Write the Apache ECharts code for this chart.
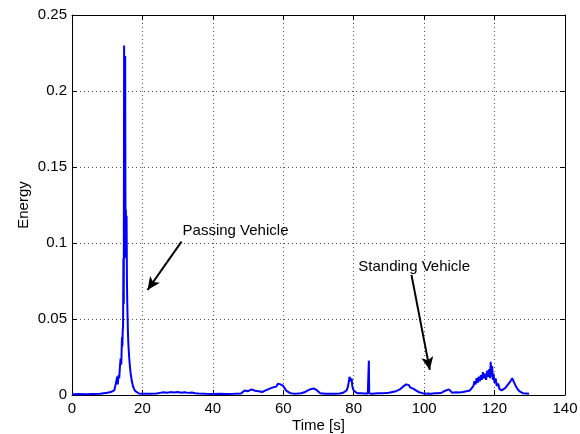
<!DOCTYPE html>
<html>
<head>
<meta charset="UTF-8">
<title>Energy</title>
<style type="text/css">
	body{margin:0;padding:0;background:#fff;}
	#chart{width:580px;height:434px;}
</style>
</head>
<body>
<div id="chart"></div>
<script src="https://cdn.jsdelivr.net/npm/echarts@6/dist/echarts.min.js"></script>
<script>
// time axis [s] and energy
var time = [0, 2, 4, 6, 8, 9, 10, 10.5, 11, 11.5, 12, 12.3, 12.6, 12.8, 13, 13.2, 13.4, 13.6, 13.8, 14,
	14.1, 14.2, 14.3, 14.4, 14.5, 14.6, 14.7, 14.8, 14.9, 15, 15.1, 15.2, 15.3, 15.4, 15.5, 15.6, 15.7, 15.8, 15.9, 16,
	16.2, 16.4, 16.6, 16.8, 17, 17.3, 17.6, 18, 18.5, 19, 20, 22, 24, 25, 26, 27, 28, 29, 30, 31,
	32, 33, 34, 35, 36, 38, 40, 42, 44, 46, 48, 48.5, 49, 50, 50.5, 51, 51.5, 52, 52.5, 53,
	54, 55, 56, 56.5, 57, 57.5, 58, 58.5, 58.8, 59.2, 59.6, 60, 60.5, 61, 62, 63, 64, 65, 66, 67,
	67.5, 68, 68.4, 68.8, 69.2, 69.6, 70, 70.5, 71, 72, 73, 74, 75, 76, 77, 77.5, 78, 78.3, 78.6, 78.8,
	79, 79.2, 79.4, 79.6, 79.8, 80.2, 80.6, 81, 82, 83, 84, 84.2, 84.3, 84.4, 85, 86, 87, 88, 89, 90,
	91, 92, 92.5, 93, 93.5, 94, 94.5, 94.9, 95.3, 95.7, 96, 96.5, 97, 97.5, 98, 98.6, 99, 100, 101, 102,
	103, 104, 105, 105.5, 106, 106.5, 107, 107.3, 108, 109, 110, 111, 112, 113, 113.5, 114, 114.3, 114.6, 114.9, 115.2,
	115.5, 115.8, 116.1, 116.4, 116.7, 117, 117.3, 117.6, 117.9, 118.2, 118.5, 118.7, 118.9, 119.1, 119.3, 119.5, 119.7, 120, 120.3, 120.6,
	121, 121.4, 122, 122.5, 123, 123.5, 124, 124.5, 125, 125.3, 125.6, 126, 126.5, 127, 127.5, 128, 129, 129.8];
var energy = [0.0005, 0.0006, 0.0005, 0.0007, 0.0008, 0.0012, 0.0015, 0.0018, 0.002, 0.0025, 0.003, 0.006, 0.009, 0.012, 0.007, 0.013, 0.011, 0.018, 0.024, 0.02,
	0.03, 0.038, 0.032, 0.042, 0.045, 0.09, 0.06, 0.23, 0.09, 0.11, 0.223, 0.1, 0.122, 0.09, 0.118, 0.075, 0.06, 0.05, 0.04, 0.034,
	0.026, 0.02, 0.015, 0.012, 0.009, 0.006, 0.004, 0.0025, 0.0015, 0.001, 0.0008, 0.0009, 0.001, 0.0014, 0.0018, 0.0015, 0.0019, 0.0016, 0.002, 0.0015,
	0.0018, 0.0014, 0.0016, 0.0012, 0.001, 0.0008, 0.0007, 0.0008, 0.0007, 0.0008, 0.001, 0.002, 0.003, 0.0025, 0.0032, 0.0037, 0.003, 0.0028, 0.0033, 0.0025,
	0.002, 0.003, 0.004, 0.0035, 0.005, 0.006, 0.0055, 0.0075, 0.0083, 0.007, 0.008, 0.006, 0.004, 0.0025, 0.0012, 0.0009, 0.001, 0.0012, 0.0018, 0.003,
	0.0028, 0.004, 0.0048, 0.0042, 0.0045, 0.003, 0.0022, 0.0012, 0.0009, 0.0008, 0.0009, 0.0008, 0.0009, 0.001, 0.0015, 0.002, 0.003, 0.005, 0.0085, 0.012,
	0.0105, 0.009, 0.011, 0.006, 0.004, 0.0025, 0.0015, 0.0012, 0.0011, 0.001, 0.001, 0.001, 0.0226, 0.001, 0.0008, 0.001, 0.0011, 0.0012, 0.0013, 0.0015,
	0.002, 0.0025, 0.0028, 0.0035, 0.0045, 0.0055, 0.0062, 0.007, 0.006, 0.0065, 0.005, 0.0048, 0.004, 0.003, 0.0025, 0.0018, 0.0012, 0.0009, 0.001, 0.0009,
	0.0011, 0.0012, 0.0015, 0.002, 0.0028, 0.0022, 0.0037, 0.0025, 0.0015, 0.0018, 0.0016, 0.002, 0.0025, 0.003, 0.004, 0.006, 0.009, 0.007, 0.011, 0.008,
	0.012, 0.009, 0.013, 0.01, 0.015, 0.011, 0.014, 0.01, 0.016, 0.012, 0.017, 0.011, 0.0219, 0.012, 0.019, 0.01, 0.014, 0.008, 0.011, 0.006,
	0.0075, 0.004, 0.003, 0.0035, 0.0045, 0.006, 0.0075, 0.009, 0.011, 0.0095, 0.008, 0.006, 0.004, 0.0025, 0.002, 0.0012, 0.001, 0.0008];

// annotations: text position and arrow (from -> to), in data units
var noteText = ['Passing Vehicle', 'Standing Vehicle'];
var notePos = [[31.4, 0.108], [81.3, 0.0844]];
var arrowFrom = [[31.1, 0.1009], [96.4, 0.079]];
var arrowTo = [[21.45, 0.0691], [101.6, 0.0165]];

var font = 'Liberation Sans, Arial, Helvetica, sans-serif';
var points = [];
for (var i = 0; i < time.length; i++) {
	points.push([time[i], energy[i]]);
}
var arrows = [], notes = [];
for (var j = 0; j < noteText.length; j++) {
	arrows.push([{coord: arrowFrom[j]}, {coord: arrowTo[j]}]);
	notes.push({coord: notePos[j], value: noteText[j]});
}

var chart = echarts.init(document.getElementById('chart'));
chart.setOption({
	animation: false,
	backgroundColor: '#fff',
	grid: {left: 72, right: 15, top: 15, bottom: 39, containLabel: false, outerBoundsMode: 'none'},
	xAxis: [{
		type: 'value', min: 0, max: 140, interval: 20,
		name: 'Time [s]', nameLocation: 'middle', nameGap: 23, nameMoveOverlap: false,
		nameTextStyle: {color: '#000', fontSize: 15, fontFamily: font},
		axisLine: {lineStyle: {color: '#000', width: 1}},
		axisTick: {inside: true, length: 5, lineStyle: {color: '#000'}},
		axisLabel: {color: '#000', fontSize: 15, fontFamily: font, margin: 6},
		splitLine: {show: true, lineStyle: {color: '#555', type: [1, 3], width: 1}}
	}, {
		type: 'value', min: 0, max: 140, interval: 20, position: 'top',
		axisLine: {onZero: false, lineStyle: {color: '#000', width: 1}},
		axisTick: {inside: true, length: 5, lineStyle: {color: '#000'}},
		axisLabel: {show: false}, splitLine: {show: false}
	}],
	yAxis: [{
		type: 'value', min: 0, max: 0.25, interval: 0.05,
		name: 'Energy', nameLocation: 'middle', nameGap: 41, nameMoveOverlap: false,
		nameTextStyle: {color: '#000', fontSize: 15, fontFamily: font},
		axisLine: {show: true, lineStyle: {color: '#000', width: 1}},
		axisTick: {show: true, inside: true, length: 5, lineStyle: {color: '#000'}},
		axisLabel: {color: '#000', fontSize: 15, fontFamily: font, margin: 5},
		splitLine: {show: true, lineStyle: {color: '#555', type: [1, 3], width: 1}}
	}, {
		type: 'value', min: 0, max: 0.25, interval: 0.05, position: 'right',
		axisLine: {show: true, onZero: false, lineStyle: {color: '#000', width: 1}},
		axisTick: {show: true, inside: true, length: 5, lineStyle: {color: '#000'}},
		axisLabel: {show: false}, splitLine: {show: false}
	}],
	series: [{
		type: 'line',
		data: points,
		showSymbol: false,
		lineStyle: {color: '#0000ff', width: 2},
		itemStyle: {color: '#0000ff'},
		markLine: {
			silent: true,
			symbol: ['none', 'arrow'],
			symbolSize: [9, 13],
			label: {show: false},
			lineStyle: {color: '#000', width: 2, type: 'solid'},
			data: arrows
		},
		markPoint: {
			silent: true,
			symbol: 'circle',
			symbolSize: 0,
			label: {
				show: true, position: 'right', distance: 0,
				color: '#000', fontSize: 15, fontFamily: font,
				formatter: function (p) { return p.value; }
			},
			data: notes
		}
	}]
});
</script>
</body>
</html>
